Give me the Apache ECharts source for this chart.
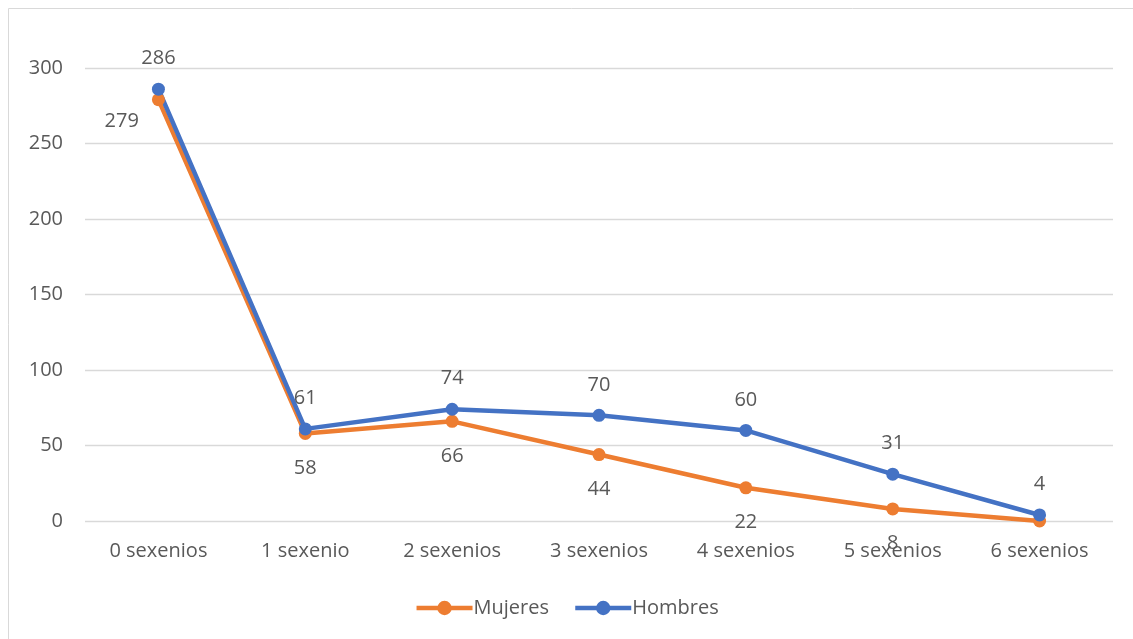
<!DOCTYPE html>
<html>
<head>
<meta charset="utf-8">
<script src="https://cdn.jsdelivr.net/npm/echarts@6/dist/echarts.min.js"></script>
<style>html,body{margin:0;padding:0;background:#fff;}#c{width:1133px;height:639px;}</style>
</head>
<body>
<div id="c"></div>
<script>
const categories = ['0 sexenios','1 sexenio','2 sexenios','3 sexenios','4 sexenios','5 sexenios','6 sexenios'];
const mujeres = [279, 58, 66, 44, 22, 8, 0];
const hombres = [286, 61, 74, 70, 60, 31, 4];
const yTicks = [0, 50, 100, 150, 200, 250, 300];

const chart = echarts.init(document.getElementById('c'));
const font = 'Open Sans, Liberation Sans, sans-serif';
const txt = '#595959';
chart.setOption({
  animation: false,
  graphic: [{type:'rect', shape:{x:8.5,y:8.5,width:1140,height:700}, style:{fill:null, stroke:'#d9d9d9', lineWidth:1}, silent:true}],
  grid: {left: 85, right: 20, top: 68, bottom: 118},
  legend: {
    bottom: 16, left: 'center', itemWidth: 56, itemHeight: 18, itemGap: 24,
    textStyle: {color: txt, fontSize: 20, fontFamily: font, padding:[0,0,0,-4]},
    lineStyle: {width: 4.5},
    data: ['Mujeres','Hombres']
  },
  xAxis: {
    type: 'category', data: categories, boundaryGap: true,
    axisLine: {show: false}, axisTick: {show: false},
    axisLabel: {color: txt, fontSize: 20, fontFamily: font, margin: 20}
  },
  yAxis: {
    type: 'value', min: yTicks[0], max: yTicks[yTicks.length-1], interval: 50,
    axisLine: {show: false}, axisTick: {show: false},
    axisLabel: {color: txt, fontSize: 20, fontFamily: font, margin: 22},
    splitLine: {lineStyle: {color: '#d9d9d9', width: 1.3}}
  },
  series: [
    {
      name: 'Mujeres', type: 'line', data: mujeres.map((v,i) => i === 0 ?
        {value: v, label: {position: 'left', offset: [5, 22]}} :
        (v === 0 ? {value: v, label: {show: false}} : {value: v})),
      color: '#ED7D31', lineStyle: {width: 4.5}, symbol: 'circle', symbolSize: 13,
      label: {show: true, position: 'bottom', distance: 18, color: txt, fontSize: 20, fontFamily: font}
    },
    {
      name: 'Hombres', type: 'line', data: hombres,
      color: '#4472C4', lineStyle: {width: 4.5}, symbol: 'circle', symbolSize: 13,
      label: {show: true, position: 'top', distance: 14, color: txt, fontSize: 20, fontFamily: font}
    }
  ]
});
</script>
</body>
</html>
